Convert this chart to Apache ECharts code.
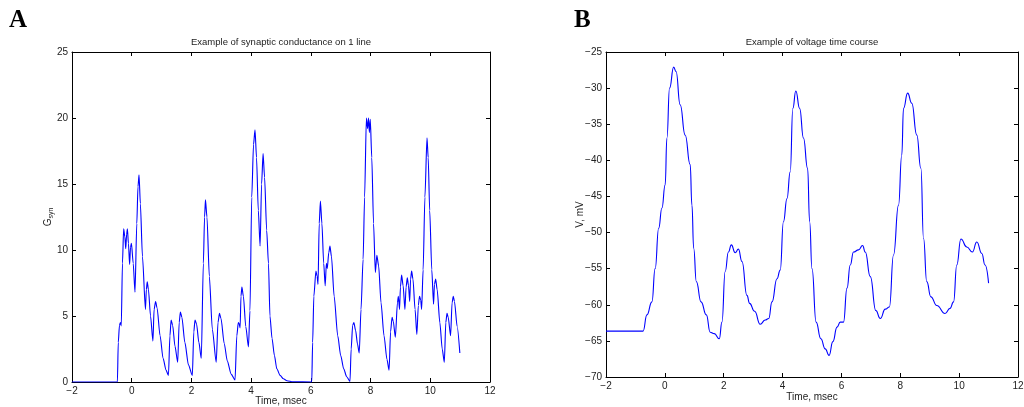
<!DOCTYPE html>
<html>
<head>
<meta charset="utf-8">
<script src="https://cdn.jsdelivr.net/npm/echarts@6/dist/echarts.min.js"></script>
<style>
  html, body { margin: 0; padding: 0; background: #fff; }
  #main { width: 1024px; height: 407px; }
</style>
</head>
<body>
<div id="main"></div>
<script>
// panel A: synaptic conductance on 1 line (time in msec)
var timeA = [-2, -0.48, -0.45, -0.41, -0.38, -0.35, -0.31, -0.27, -0.23, -0.2, -0.17, -0.145, -0.11, -0.07, -0.04, -0.01,
  0.05, 0.11, 0.17, 0.21, 0.245, 0.29, 0.36, 0.46, 0.49, 0.52, 0.56, 0.63, 0.71, 0.75, 0.8, 0.85, 0.95, 1.05, 1.15,
  1.23, 1.28, 1.32, 1.37, 1.45, 1.54, 1.59, 1.63, 1.68, 1.78, 1.9, 2.03, 2.08, 2.12, 2.17, 2.25, 2.33, 2.4, 2.44,
  2.47, 2.52, 2.6, 2.7, 2.83, 2.89, 2.94, 2.99, 3.1, 3.2, 3.33, 3.46, 3.52, 3.57, 3.6, 3.63, 3.66, 3.69, 3.74, 3.82,
  3.91, 3.96, 4.02, 4.08, 4.13, 4.18, 4.24, 4.3, 4.35, 4.4, 4.45, 4.52, 4.58, 4.63, 4.7, 4.78, 4.86, 4.97, 5.08,
  5.2, 5.4, 6.03, 6.06, 6.1, 6.17, 6.21, 6.24, 6.28, 6.32, 6.37, 6.43, 6.48, 6.52, 6.55, 6.6, 6.64, 6.69, 6.78,
  6.9, 7.0, 7.1, 7.2, 7.31, 7.35, 7.4, 7.44, 7.5, 7.56, 7.62, 7.68, 7.75, 7.8, 7.86, 7.9, 7.93, 7.96, 7.99, 8.04,
  8.1, 8.16, 8.21, 8.27, 8.35, 8.45, 8.55, 8.62, 8.67, 8.72, 8.76, 8.83, 8.9, 8.93, 8.97, 9.0, 9.04, 9.09, 9.15,
  9.19, 9.23, 9.27, 9.31, 9.34, 9.375, 9.42, 9.49, 9.55, 9.6, 9.64, 9.68, 9.71, 9.76, 9.82, 9.89, 9.93, 9.98,
  10.05, 10.11, 10.14, 10.18, 10.23, 10.32, 10.4, 10.47, 10.52, 10.56, 10.6, 10.68, 10.73, 10.77, 10.81, 10.9, 10.99];
var gSyn = [0, 0, 3.0, 4.3, 4.5, 4.25, 9.0, 11.6, 11.0, 10.1, 11.2, 11.6, 10.5, 8.9, 10.2, 10.5,
  9.0, 6.8, 12.0, 14.8, 15.7, 13.5, 9.5, 5.5, 7.0, 7.6, 7.0, 5.0, 3.1, 5.5, 6.1, 5.6, 3.5, 1.8, 0.9,
  0.5, 3.5, 4.7, 4.3, 2.7, 1.5, 4.5, 5.3, 4.9, 3.0, 1.3, 0.5, 3.8, 4.7, 4.4, 3.0, 1.8, 9.0, 12.5,
  13.8, 12.5, 8.0, 4.0, 1.5, 4.5, 5.2, 4.8, 2.9, 1.6, 0.6, 0.15, 3.5, 4.5, 4.4, 4.1, 6.5, 7.2, 6.5, 4.2,
  2.66, 5.4, 14.0, 18.0, 19.1, 17.0, 13.0, 10.3, 15.0, 17.3, 15.5, 11.5, 9.0, 5.0, 3.3, 2.0, 1.0, 0.5, 0.25,
  0.1, 0.02, 0, 3.0, 6.5, 8.4, 8.0, 7.4, 12.0, 13.7, 12.0, 9.0, 7.3, 9.0, 8.6, 9.8, 10.3, 9.5, 6.5,
  3.5, 2.0, 1.0, 0.4, 0.05, 2.5, 4.3, 4.5, 3.9, 2.9, 2.2, 5.5, 9.3, 14.0, 20.0, 19.2, 20.0, 18.9, 19.9, 17.0,
  12.0, 8.3, 9.6, 8.8, 6.0, 3.5, 1.7, 0.9, 3.8, 4.9, 4.6, 3.4, 6.0, 6.5, 5.5, 7.2, 8.1, 7.3, 5.5,
  7.2, 7.9, 7.3, 6.1, 7.8, 8.4, 7.8, 5.5, 3.6, 5.8, 6.5, 6.2, 5.5, 8.5, 14.0, 18.5, 17.0, 13.0,
  8.5, 5.9, 7.4, 7.8, 7.0, 4.5, 2.5, 1.5, 4.5, 5.2, 4.9, 3.5, 6.0, 6.5, 6.1, 4.2, 2.2];

// panel B: voltage time course
var timeB = [-2, -0.74, -0.61, -0.44, -0.33, -0.21, -0.1, 0.01, 0.07, 0.16, 0.3, 0.38, 0.52, 0.69, 0.86, 0.92, 0.98,
  1.07, 1.23, 1.41, 1.54, 1.68, 1.85, 1.94, 2.05, 2.16, 2.26, 2.39, 2.5, 2.62, 2.79, 2.88, 3.05, 3.24, 3.41, 3.53,
  3.64, 3.81, 3.92, 4.03, 4.15, 4.26, 4.35, 4.45, 4.58, 4.71, 4.85, 4.92, 5.0, 5.14, 5.3, 5.45, 5.58, 5.71, 5.85,
  5.96, 6.07, 6.19, 6.3, 6.41, 6.58, 6.72, 6.81, 6.98, 7.17, 7.32, 7.49, 7.63, 7.77, 7.94, 8.05, 8.11, 8.25, 8.39,
  8.56, 8.7, 8.79, 8.9, 9.04, 9.24, 9.52, 9.69, 9.81, 9.92, 10.06, 10.26, 10.45, 10.6, 10.77, 10.88, 11.0];
var voltage = [-63.65, -63.65, -61.4, -59.6, -55.0, -49.4, -46.6, -43.4, -36.9, -30.0, -27.1, -27.7, -32.3, -36.5, -40.6, -46.2, -52.2,
  -56.8, -59.6, -61.4, -63.8, -64.0, -64.7, -62.4, -55.4, -52.7, -51.7, -52.8, -52.3, -54.0, -58.7, -59.8, -60.9, -62.7, -62.1, -61.9,
  -59.6, -56.4, -55.2, -48.5, -45.3, -41.6, -32.8, -30.4, -32.8, -36.9, -41.1, -48.5, -55.0, -62.4, -64.7, -66.1, -67.0, -65.1, -63.1,
  -62.4, -62.4, -57.7, -54.5, -52.7, -52.4, -51.8, -52.7, -56.1, -60.8, -61.9, -60.6, -60.3, -53.1, -46.2, -39.3, -32.8, -30.7, -32.1,
  -36.5, -41.1, -50.8, -56.8, -58.9, -60.1, -61.2, -60.5, -59.6, -54.5, -50.9, -52.0, -52.7, -51.3, -52.9, -54.5, -57.0];

var xTicks = [-2, 12, 2];   // min, max, interval
var yTicksA = [0, 25, 5];
var yTicksB = [-70, -25, 5];

function zip(xs, ys) {
  var out = [];
  for (var i = 0; i < xs.length; i++) out.push([xs[i], ys[i]]);
  return out;
}

var font = 'Liberation Sans';
var txt = '#222';
function minus(v) { return String(v).replace('-', '\u2212'); }

function xAx(gi, bottom, name, gap) {
  return {
    type: 'value', gridIndex: gi, position: bottom ? 'bottom' : 'top',
    min: xTicks[0], max: xTicks[1], interval: xTicks[2],
    name: bottom ? name : '', nameLocation: 'middle', nameGap: gap || 15, nameMoveOverlap: false,
    nameTextStyle: { fontFamily: font, fontSize: 10, color: txt },
    axisLine: { show: true, onZero: false, lineStyle: { color: '#000', width: 1 } },
    axisTick: { show: true, inside: true, length: 4, lineStyle: { color: '#000' } },
    axisLabel: { show: bottom, margin: 4, fontFamily: font, fontSize: 10, color: txt, formatter: minus },
    splitLine: { show: false }
  };
}
function yAx(gi, left, t, name, gap) {
  return {
    type: 'value', gridIndex: gi, position: left ? 'left' : 'right',
    min: t[0], max: t[1], interval: t[2],
    name: left ? name : '', nameLocation: 'middle', nameGap: gap || 15, nameMoveOverlap: false,
    nameTextStyle: {
      fontFamily: font, fontSize: 10, color: txt,
      rich: { sub: { fontFamily: font, fontSize: 7, color: txt, verticalAlign: 'bottom', padding: [6, 0, 0, 0] } }
    },
    axisLine: { show: true, onZero: false, lineStyle: { color: '#000', width: 1 } },
    axisTick: { show: true, inside: true, length: 4, lineStyle: { color: '#000' } },
    axisLabel: { show: left, margin: 4, fontFamily: font, fontSize: 10, color: txt, formatter: minus },
    splitLine: { show: false }
  };
}

var chart = echarts.init(document.getElementById('main'), null, { renderer: 'canvas' });
chart.setOption({
  animation: false,
  backgroundColor: '#fff',
  title: [
    { text: 'Example of synaptic conductance on 1 line', left: 281, top: 37, padding: 0, textAlign: 'center',
      textStyle: { fontFamily: font, fontSize: 9.5, fontWeight: 'normal', color: txt } },
    { text: 'Example of voltage time course', left: 812, top: 37, padding: 0, textAlign: 'center',
      textStyle: { fontFamily: font, fontSize: 9.5, fontWeight: 'normal', color: txt } }
  ],
  graphic: [
    { type: 'text', left: 9, top: 8, style: { text: 'A', font: 'bold 25px "Liberation Serif"', fill: '#000' } },
    { type: 'text', left: 574, top: 8, style: { text: 'B', font: 'bold 25px "Liberation Serif"', fill: '#000' } }
  ],
  grid: [
    { left: 72, right: 534, top: 52, bottom: 25, show: false, outerBoundsMode: 'none' },
    { left: 606, right: 6, top: 52, bottom: 30, show: false, outerBoundsMode: 'none' }
  ],
  xAxis: [
    xAx(0, true, 'Time, msec', 14), xAx(0, false),
    xAx(1, true, 'Time, msec', 15), xAx(1, false)
  ],
  yAxis: [
    yAx(0, true, yTicksA, 'G{sub|syn}', 17), yAx(0, false, yTicksA),
    yAx(1, true, yTicksB, 'V, mV', 21), yAx(1, false, yTicksB)
  ],
  series: [
    { type: 'line', xAxisIndex: 0, yAxisIndex: 0, data: zip(timeA, gSyn), showSymbol: false,
      smooth: 0.25, smoothMonotone: 'x', lineStyle: { color: '#0000ff', width: 1.1 } },
    { type: 'line', xAxisIndex: 2, yAxisIndex: 2, data: zip(timeB, voltage), showSymbol: false,
      smooth: 0.5, smoothMonotone: 'x', lineStyle: { color: '#0000ff', width: 1.1 } }
  ]
});
</script>
</body>
</html>
